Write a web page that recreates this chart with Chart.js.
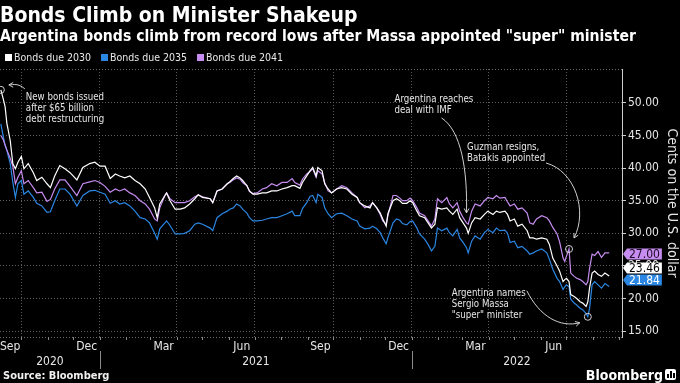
<!DOCTYPE html>
<html><head><meta charset="utf-8">
<script src="https://cdn.jsdelivr.net/npm/chart.js@4.4.0/dist/chart.umd.min.js"></script>
<style>
html,body{margin:0;padding:0;background:#000;width:680px;height:383px;overflow:hidden}
body{position:relative;font-family:'DejaVu Sans Condensed','DejaVu Sans',sans-serif;font-stretch:condensed;color:#fff}
#c{position:absolute;left:0;top:0}
.t{position:absolute;white-space:nowrap;z-index:2}
#title{left:0;top:2px;font-size:21px;font-weight:bold;line-height:26px}
#subtitle{left:0;top:27px;font-size:15.6px;font-weight:bold;line-height:18px}
#legend{left:5px;top:51px;font-size:10.5px;line-height:12px;display:flex}
#legend span.it{display:flex;align-items:center;margin-right:10px;color:#e8e8e8}
#legend i{display:inline-block;width:7px;height:7px;margin-right:2px}
#source{left:3px;top:369px;font-size:11px;font-weight:bold;line-height:14px;color:#f0f0f0}
#logo{right:17px;top:366px;font-size:14px;font-weight:bold;line-height:18px;color:#fff}
#icon{position:absolute;right:4px;top:369px;width:11px;height:11px;background:#fff;border-radius:2px;z-index:2}
#icon b{position:absolute;bottom:2px;width:2px;background:#000}
</style></head>
<body>
<canvas id="c" width="680" height="383"></canvas>
<div class="t" id="title">Bonds Climb on Minister Shakeup</div>
<div class="t" id="subtitle">Argentina bonds climb from record lows after Massa appointed "super" minister</div>
<div class="t" id="legend"></div>
<div class="t" id="source">Source: Bloomberg</div>
<div class="t" id="logo">Bloomberg</div>
<div id="icon"><b style="left:2px;height:4px"></b><b style="left:5px;height:7px"></b><b style="left:8px;height:5px"></b></div>
<script>
// ---- DATA (days counted from 2021-01-01) ----
const seriesNames = ['Bonds due 2030', 'Bonds due 2035', 'Bonds due 2041'];
const seriesColors = ['#ffffff', '#2a86e2', '#c68cf0'];
const dayOffsets = [-116,-113,-111,-109,-105,-102,-99,-96,-92,-89,-84,-78,-74,-68,-62,-58,-53,-47,-41,-35,-27,-20,-12,-6,
 0,6,12,18,23,29,35,41,47,53,58,64,67,70,76,78,82,88,94,99,105,111,115,120,129,132,137,143,149,152,156,160,164,167,172,175,179,184,190,195,201,207,213,219,225,228,234,237,242,246,249,253,255,260,263,267,271,277,283,289,295,301,304,310,316,319,324,328,331,335,337,343,347,351,354,359,363,
 366,371,374,380,384,388,392,395,400,406,409,413,418,421,425,429,431,435,439,445,450,454,460,464,468,474,477,480,485,489,494,500,503,507,511,517,523,526,530,535,538,542,544,546,549,551,555,558,562,565,569,571,573,576,579,583,587,591,596];
const bonds2030 = [52.0,50.5,49.4,46.9,44.2,40.7,39.9,40.9,41.8,39.9,40.7,39.3,38.1,38.6,37.6,37.0,38.8,40.4,39.9,39.3,38.2,40.1,40.7,40.9,
 40.3,40.3,38.4,39.1,38.8,38.5,38.8,38.1,37.6,36.8,35.5,33.9,32.4,34.5,35.8,36.2,35.0,33.7,33.7,33.9,34.5,35.3,35.9,35.5,35.3,34.7,36.5,36.8,37.6,37.9,38.4,38.8,38.5,38.1,37.3,36.5,36.0,36.0,36.2,36.2,36.5,36.5,36.8,37.0,37.3,37.3,36.9,37.8,38.8,39.6,40.1,38.8,40.1,39.6,37.6,36.8,36.2,36.8,37.0,36.8,36.0,35.5,34.7,34.2,33.9,34.7,33.9,33.1,32.2,31.1,33.0,35.0,35.3,35.0,34.6,34.6,35.0,
 34.7,33.4,32.7,32.4,31.6,30.8,31.4,33.9,33.7,33.9,33.4,32.9,33.7,32.4,31.6,30.8,30.0,31.6,32.4,32.2,32.9,33.4,32.9,33.4,33.2,33.4,32.9,31.9,32.2,31.1,31.4,30.4,29.3,29.3,29.1,29.3,29.1,28.3,26.2,25.0,24.2,22.6,22.9,23.1,22.6,20.6,20.3,20.0,19.5,19.3,18.8,19.5,21.6,23.9,24.2,23.7,23.4,23.9,23.46];
const bonds2035 = [46.8,44.7,43.5,42.7,40.7,37.8,35.5,37.6,38.1,36.0,36.5,35.5,34.6,34.2,33.2,33.3,35.0,36.8,36.8,36.0,34.2,35.8,36.5,36.6,
 36.3,36.0,34.6,35.0,34.5,34.7,34.2,33.4,32.4,32.2,31.6,30.0,29.1,30.7,31.6,31.9,31.2,29.9,29.9,30.0,30.4,31.4,31.6,31.4,30.8,30.4,32.4,33.0,33.4,33.7,33.9,34.5,34.2,33.7,33.1,32.4,31.9,31.9,32.0,32.2,32.4,32.4,32.7,33.0,33.4,32.7,32.7,33.8,34.7,35.7,35.8,34.7,36.0,35.5,33.9,33.0,32.4,33.0,33.1,32.7,32.2,31.9,31.1,30.7,30.8,31.1,30.7,30.1,29.3,28.4,29.3,31.6,32.2,32.0,31.5,31.3,31.8,
 31.9,30.8,29.9,29.1,28.3,27.3,28.0,30.8,30.4,30.8,30.1,29.6,30.6,29.3,28.6,27.8,27.0,28.8,29.6,29.1,30.1,30.6,30.1,30.8,30.4,30.5,30.0,28.6,28.8,27.8,28.0,27.3,26.8,27.0,27.3,27.6,27.0,26.0,24.5,23.1,22.6,21.4,21.8,22.1,21.8,19.9,19.3,19.0,18.5,18.3,17.7,17.2,18.5,22.1,22.6,22.1,21.6,22.3,21.84];
const bonds2041 = [45.0,44.3,43.5,42.8,41.5,40.3,37.6,38.6,39.6,37.6,38.1,37.0,36.2,36.3,34.9,35.2,36.8,38.2,38.2,37.2,35.8,37.6,37.9,38.1,
 37.8,37.2,36.3,36.8,36.5,36.8,36.2,35.8,35.0,34.5,33.7,32.2,31.9,33.9,35.8,36.2,35.3,34.7,34.7,34.7,35.0,35.6,35.9,35.6,35.3,34.7,36.5,36.8,37.6,37.8,38.2,38.5,38.3,37.8,37.3,36.4,36.1,36.2,36.8,37.0,37.6,37.3,37.8,37.8,38.4,37.8,37.4,38.3,39.1,39.5,39.9,38.6,39.6,39.1,37.8,36.5,36.2,36.8,37.3,37.0,36.2,35.5,34.7,33.9,34.2,34.7,33.9,32.9,31.9,31.4,32.7,35.8,35.8,35.4,35.0,35.0,35.4,
 35.0,33.9,33.1,32.7,31.9,31.1,32.2,35.3,34.7,35.5,34.5,33.9,34.7,33.4,32.4,31.6,31.4,33.4,34.5,34.2,35.0,35.5,35.3,35.8,35.4,35.5,34.8,34.2,34.5,33.7,33.9,33.1,31.6,31.4,32.2,32.7,32.4,31.9,30.9,29.9,28.7,26.2,25.7,26.5,27.6,23.9,23.4,23.1,22.9,22.6,22.1,22.6,24.6,26.8,26.6,27.2,26.3,27.0,27.0];
const yTickValues = [15, 20, 25, 30, 35, 40, 45, 50];
const monthNames = ['Jan','Feb','Mar','Apr','May','Jun','Jul','Aug','Sep','Oct','Nov','Dec'];
const labelledMonths = [8, 11, 2, 5];
const annotationNotes = [
  {lines:['New bonds issued','after $65 billion','debt restructuring'], series:0, day:-116, circle:true},
  {lines:['Argentina reaches','deal with IMF'], series:2, day:429, circle:false},
  {lines:['Guzman resigns,','Batakis appointed'], series:2, day:549, circle:true},
  {lines:['Argentina names','Sergio Massa','"super" minister'], series:1, day:571, circle:true}
];
// ---- STYLE ----
const FONT = "'DejaVu Sans Condensed','DejaVu Sans',sans-serif";
const X_MIN = -117, X_MAX = 611, Y_MIN = 14.1, Y_MAX = 55.2;
const noteLayout = [
  {text:[25,8], arrow:[[24,-1],[17,-7],[13,-5],[8,-5]]},
  {text:[-72,-123], arrow:[[-25,-105],[-5,-92],[1,-52],[0,-10]]},
  {text:[-102,-101], arrow:[[-23,-86],[6,-78],[19,-38],[5,-11]]},
  {text:[-136,-23], arrow:[[-61,-26],[-48,0],[-28,11],[-8,6]]}
];
const endLabelNudge = [-8, -6.5, 1];
const endTextColors = ['#000000', '#ffffff', '#1a0a24'];

const allSeries = [bonds2030, bonds2035, bonds2041];
const legend = document.getElementById('legend');
seriesNames.forEach((n, i) => {
  const s = document.createElement('span'); s.className = 'it';
  s.innerHTML = '<i style="background:' + seriesColors[i] + '"></i>' + n;
  legend.appendChild(s);
});
const base = Date.UTC(2021, 0, 1);
const dayOf = (y, m, d) => (Date.UTC(y, m, d) - base) / 864e5;

function monthStarts() {
  const out = [];
  for (let y = 2020; y <= 2022; y++) for (let m = 0; m < 12; m++) {
    const d = dayOf(y, m, 1);
    if (d >= X_MIN && d <= X_MAX) out.push({y, m, d});
  }
  return out;
}

const bottomPlugin = {
  id: 'bottom',
  afterDraw(chart) {
    const ctx = chart.ctx, xs = chart.scales.x, ys = chart.scales.y, a = chart.chartArea;
    ctx.save();
    ctx.strokeStyle = '#6a6a6a'; ctx.lineWidth = 1; ctx.setLineDash([1, 2]);
    [a.top + 0.5, a.bottom + 0.5].forEach(yy => { ctx.beginPath(); ctx.moveTo(a.left, yy); ctx.lineTo(a.right, yy); ctx.stroke(); });
    ctx.setLineDash([]);
    ctx.strokeStyle = '#8a8a8a';
    monthStarts().forEach(ms => {
      const px = Math.round(xs.getPixelForValue(ms.d)) + 0.5;
      ctx.beginPath(); ctx.moveTo(px, a.bottom); ctx.lineTo(px, a.bottom + 3); ctx.stroke();
    });
    ctx.fillStyle = '#e6e6e6'; ctx.font = '12px ' + FONT; ctx.textBaseline = 'middle'; ctx.textAlign = 'center';
    for (let y = 2020; y <= 2022; y++) labelledMonths.forEach(m => {
      const mid = (dayOf(y, m, 1) + dayOf(y, m + 1, 1)) / 2;
      if (mid < X_MIN || mid > X_MAX) return;
      let px = xs.getPixelForValue(mid);
      const w = ctx.measureText(monthNames[m]).width;
      px = Math.max(px, a.left + w / 2);
      ctx.fillText(monthNames[m], px, a.bottom + 10);
    });
    for (let y = 2020; y <= 2022; y++) {
      const s = Math.max(X_MIN, dayOf(y, 0, 1)), e = Math.min(X_MAX, dayOf(y + 1, 0, 1));
      if (e <= s) continue;
      ctx.fillText(String(y), (xs.getPixelForValue(s) + xs.getPixelForValue(e)) / 2, a.bottom + 25);
      const j = dayOf(y, 0, 1);
      if (j > X_MIN && j < X_MAX) {
        const px = Math.round(xs.getPixelForValue(j)) + 0.5;
        ctx.strokeStyle = '#8a8a8a';
        ctx.beginPath(); ctx.moveTo(px, a.bottom + 14); ctx.lineTo(px, a.bottom + 32); ctx.stroke();
      }
    }
    ctx.strokeStyle = '#cfcfcf'; ctx.lineWidth = 1;
    annotationNotes.forEach((n, k) => {
      const idx = dayOffsets.indexOf(n.day);
      const px = xs.getPixelForValue(n.day), py = ys.getPixelForValue(allSeries[n.series][idx]);
      const L = noteLayout[k];
      if (n.circle) { ctx.beginPath(); ctx.arc(px, py, 3.5, 0, Math.PI * 2); ctx.stroke(); }
      const P = L.arrow.map(p => [px + p[0], py + p[1]]);
      ctx.beginPath(); ctx.moveTo(P[0][0], P[0][1]);
      ctx.bezierCurveTo(P[1][0], P[1][1], P[2][0], P[2][1], P[3][0], P[3][1]); ctx.stroke();
      const ang = Math.atan2(P[3][1] - P[2][1], P[3][0] - P[2][0]);
      ctx.beginPath();
      ctx.moveTo(P[3][0] - 5 * Math.cos(ang - 0.5), P[3][1] - 5 * Math.sin(ang - 0.5));
      ctx.lineTo(P[3][0], P[3][1]);
      ctx.lineTo(P[3][0] - 5 * Math.cos(ang + 0.5), P[3][1] - 5 * Math.sin(ang + 0.5));
      ctx.stroke();
      ctx.fillStyle = '#e6e6e6'; ctx.font = '9.6px ' + FONT; ctx.textAlign = 'left'; ctx.textBaseline = 'middle';
      n.lines.forEach((t, i) => ctx.fillText(t, px + L.text[0], py + L.text[1] + i * 10.7));
    });
    ctx.font = '12px ' + FONT; ctx.textAlign = 'center';
    allSeries.forEach((arr, i) => {
      const v = arr[arr.length - 1];
      const cy = ys.getPixelForValue(v) + endLabelNudge[i];
      const txt = v.toFixed(2), w = ctx.measureText(txt).width + 4, x0 = a.right + 5, h = 11;
      ctx.fillStyle = seriesColors[i];
      ctx.beginPath(); ctx.moveTo(a.right + 1, cy); ctx.lineTo(x0, cy - h / 2); ctx.lineTo(x0 + w, cy - h / 2);
      ctx.lineTo(x0 + w, cy + h / 2); ctx.lineTo(x0, cy + h / 2); ctx.closePath(); ctx.fill();
      ctx.fillStyle = endTextColors[i];
      ctx.fillText(txt, x0 + w / 2, cy + 0.5);
    });
    ctx.restore();
  }
};

const drawOrder = [0, 2, 1];
new Chart(document.getElementById('c'), {
  type: 'line',
  data: {
    datasets: allSeries.map((arr, i) => ({
      label: seriesNames[i],
      data: dayOffsets.map((d, j) => ({x: d, y: arr[j]})),
      borderColor: seriesColors[i], borderWidth: 1.2, pointRadius: 0, tension: 0, fill: false,
      order: drawOrder[i]
    }))
  },
  options: {
    responsive: false, animation: false, events: [],
    layout: {padding: {left: 0, right: 0, top: 69, bottom: 46}},
    plugins: {legend: {display: false}, tooltip: {enabled: false}},
    scales: {
      x: {
        type: 'linear', min: X_MIN, max: X_MAX,
        afterBuildTicks: s => { s.ticks = monthStarts().filter(m => m.m % 3 === 0).map(m => ({value: m.d})); },
        afterFit: s => { s.height = 0; },
        grid: {color: '#5c5c5c', lineWidth: 1, drawTicks: false},
        border: {display: false, dash: [1, 2]},
        ticks: {display: false}
      },
      y: {
        position: 'right', min: Y_MIN, max: Y_MAX,
        afterBuildTicks: s => { s.ticks = yTickValues.map(v => ({value: v})); },
        afterFit: s => { s.width = 58; },
        grid: {color: '#5c5c5c', lineWidth: 1, drawTicks: true, tickLength: 4, tickColor: '#cccccc', tickWidth: 1},
        border: {display: true, color: '#cccccc', width: 1, dash: [1, 2]},
        ticks: {color: '#e6e6e6', padding: 2, font: {family: FONT, size: 12}, callback: v => v.toFixed(2)},
        title: {display: true, text: 'Cents on the U.S. dollar', color: '#e6e6e6', font: {family: FONT, size: 14}, padding: {top: 0, bottom: 0}}
      }
    }
  },
  plugins: [bottomPlugin]
});
</script>
</body></html>
